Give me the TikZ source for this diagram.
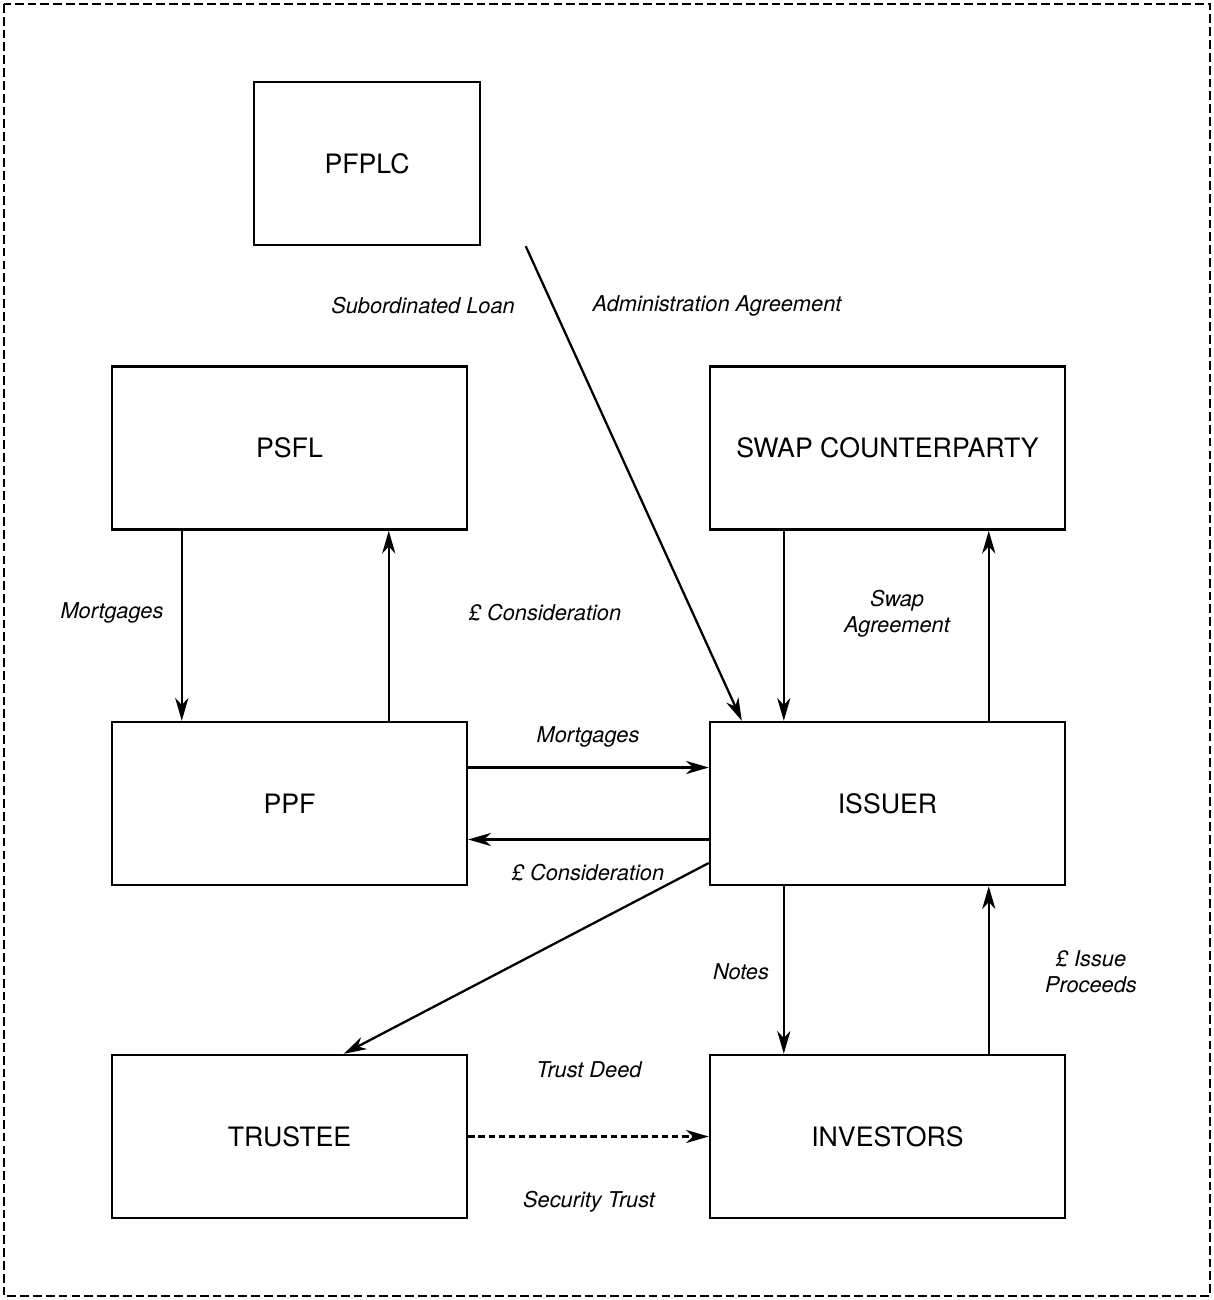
\documentclass[tikz,border=0pt]{standalone}
\usepackage{fontspec}
\setmainfont{TeX Gyre Heros}
\usepackage{tikz}
\usetikzlibrary{arrows.meta,shapes}

\begin{document}
\begin{tikzpicture}[x=0.02cm,y=-0.02cm,
	party/.style={draw,line width=1.4pt,minimum width=7.1cm,minimum height=3.26cm,inner sep=0pt,font=\fontsize{15.2}{18}\selectfont},
	flow/.style={line width=1.3pt,-{Stealth[length=13pt,width=7.5pt,inset=4pt]}},
	tag/.style={font=\fontsize{12.4}{15}\selectfont\itshape,align=center,inner sep=0pt}]
	\useasboundingbox (0,0) rectangle (1213,1300);
	% frame
	\draw[line width=1.1pt,dash pattern=on 5pt off 2.3pt] (4,4) rectangle (1210,1296);
	% parties
	\node[party,minimum width=4.52cm] (pfplc) at (367,163.5) {PFPLC};
	\node[party] (psfl) at (289.5,448) {PSFL};
	\node[party] (swap) at (887.5,448) {SWAP COUNTERPARTY};
	\node[party] (ppf) at (289.5,803.5) {PPF};
	\node[party] (issuer) at (887.5,803.5) {ISSUER};
	\node[party] (trustee) at (289.5,1136.5) {TRUSTEE};
	\node[party] (investors) at (887.5,1136.5) {INVESTORS};
	% labels
	\node[tag] (subloan) at (423,306) {Subordinated Loan};
	\node[tag] (admin) at (717,306) {Administration Agreement};
	\node[tag] (mortg1) at (112,613) {Mortgages};
	\node[tag] (consid1) at (545,613) {£ Consideration};
	\node[tag] (swapagr) at (897,614) {Swap\\Agreement};
	\node[tag] (mortg2) at (588,737) {Mortgages};
	\node[tag] (consid2) at (588,873) {£ Consideration};
	\node[tag] (notes) at (741,972) {Notes};
	\node[tag] (proceeds) at (1091,972) {£ Issue\\Proceeds};
	\node[tag] (deed) at (589,1070) {Trust Deed};
	\node[tag] (sectrust) at (589,1202) {Security Trust};
	% flows
	\draw[flow] ([xshift=5.46cm]pfplc.south west) -- ([xshift=0.66cm]issuer.north west);
	\draw[flow] ([xshift=1.42cm]psfl.south west) -- ([xshift=1.42cm]ppf.north west);
	\draw[flow] ([xshift=5.56cm]ppf.north west) -- ([xshift=5.56cm]psfl.south west);
	\draw[flow] ([xshift=1.5cm]swap.south west) -- ([xshift=1.5cm]issuer.north west);
	\draw[flow] ([xshift=5.6cm]issuer.north west) -- ([xshift=5.6cm]swap.south west);
	\draw[flow] ([yshift=0.72cm]ppf.east) -- ([yshift=0.72cm]issuer.west);
	\draw[flow] ([yshift=-0.72cm]issuer.west) -- ([yshift=-0.72cm]ppf.east);
	\draw[flow] ([yshift=-1.19cm]issuer.west) -- ([xshift=4.66cm]trustee.north west);
	\draw[flow] ([xshift=1.5cm]issuer.south west) -- ([xshift=1.5cm]investors.north west);
	\draw[flow] ([xshift=5.6cm]investors.north west) -- ([xshift=5.6cm]issuer.south west);
	\draw[flow,dash pattern=on 3.6pt off 2.2pt] (trustee) -- (investors);
\end{tikzpicture}
\end{document}
